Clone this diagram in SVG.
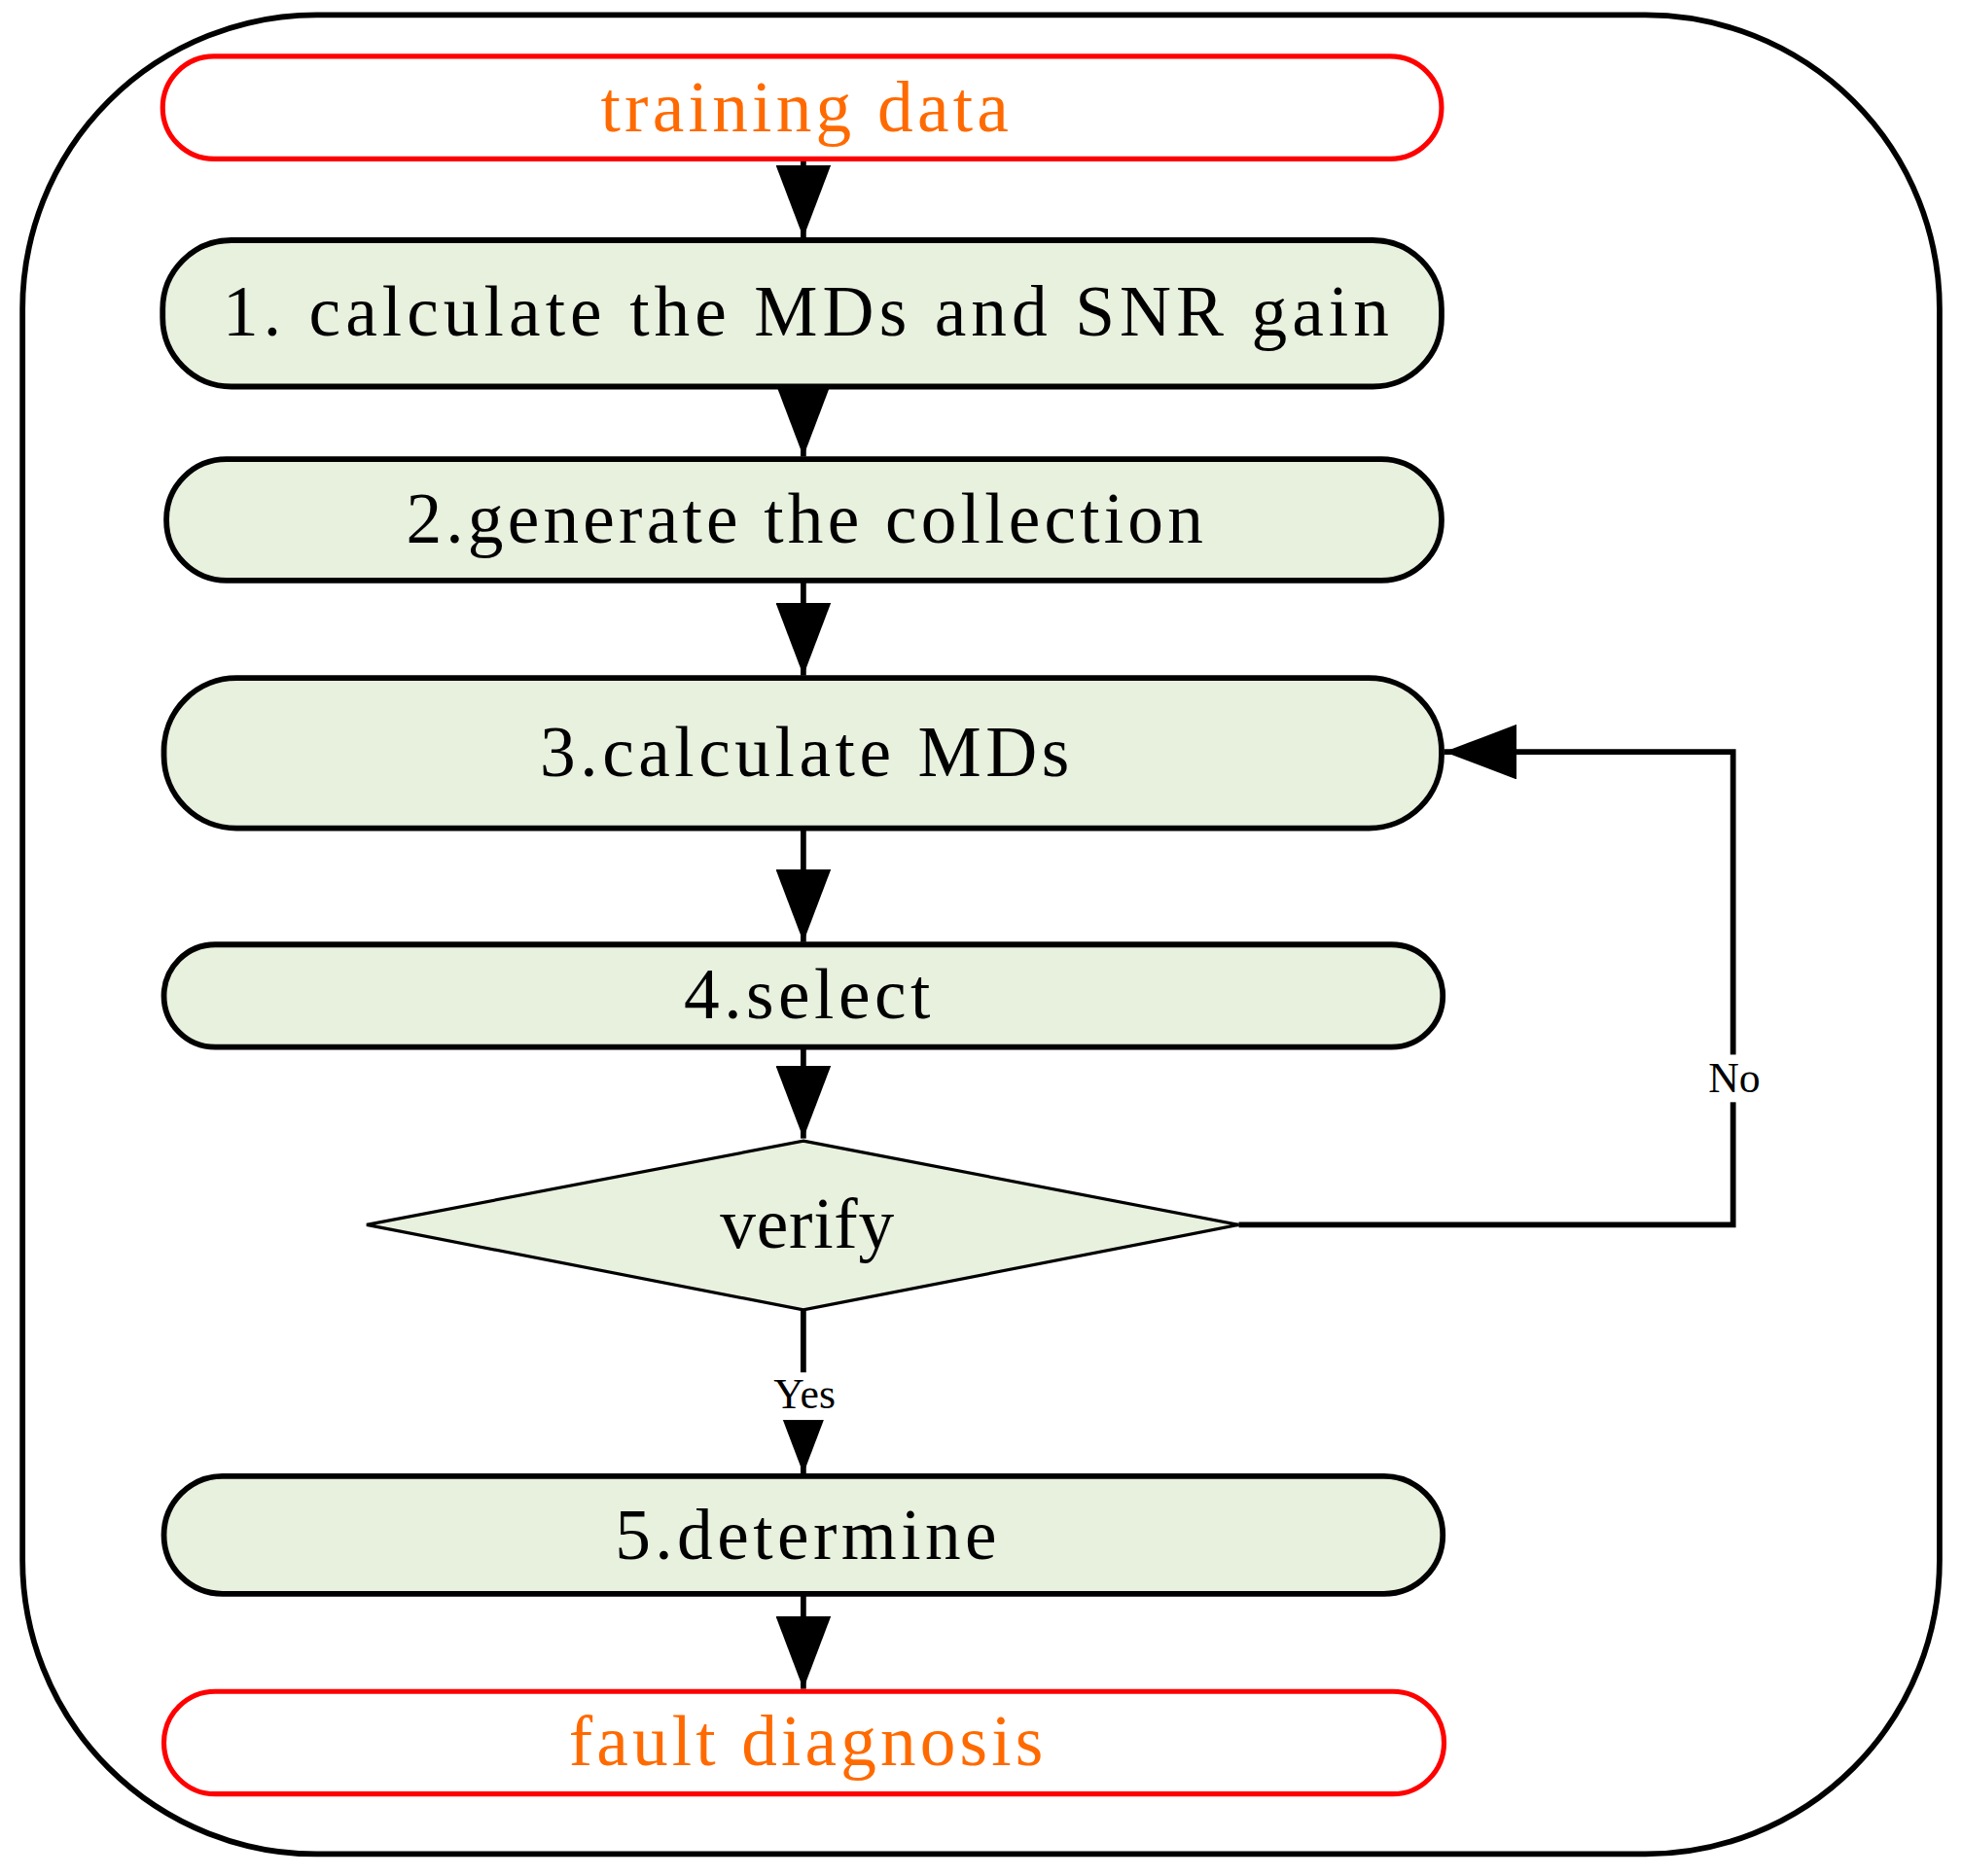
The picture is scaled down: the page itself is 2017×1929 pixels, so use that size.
<svg xmlns="http://www.w3.org/2000/svg" width="2017" height="1929" viewBox="0 0 2017 1929">
<style>
.box{fill:#e8f0de;stroke:#000;stroke-width:4.5}
.term{fill:#fff;stroke:#ff0000;stroke-width:4}
.t{font-family:"Liberation Serif",serif;font-size:57px;text-anchor:middle;fill:#000}
.o{fill:#ff6a00}
.s{font-family:"Liberation Serif",serif;font-size:34px;text-anchor:middle;fill:#000}
.c{stroke:#000;stroke-width:4.5;fill:none}
</style>
<defs>
<marker id="a" markerUnits="userSpaceOnUse" markerWidth="58" markerHeight="44" refX="58" refY="22" orient="auto" viewBox="0 0 58 44">
<path d="M0,0 L58,22 L0,44 Z" fill="#000"/>
</marker>
</defs>
<rect width="2017" height="1929" fill="#fff"/>
<g transform="scale(1.2864)">
<rect x="18" y="12" width="1532" height="1470" rx="235" fill="none" stroke="#000" stroke-width="4.5"/>
<g id="connectors">
<line class="c" x1="642" y1="127" x2="642" y2="190" marker-end="url(#a)"/>
<line class="c" x1="642" y1="309" x2="642" y2="365" marker-end="url(#a)"/>
<line class="c" x1="642" y1="464" x2="642" y2="540" marker-end="url(#a)"/>
<line class="c" x1="642" y1="662" x2="642" y2="753" marker-end="url(#a)"/>
<line class="c" x1="642" y1="837" x2="642" y2="910" marker-end="url(#a)"/>
<line class="c" x1="642" y1="1047" x2="642" y2="1178" marker-end="url(#a)"/>
<line class="c" x1="642" y1="1274" x2="642" y2="1350" marker-end="url(#a)"/>
<polyline class="c" points="990,979 1385,979 1385,601 1154,601" marker-end="url(#a)"/>
<rect x="1358" y="843" width="56" height="38" fill="#fff"/>
<text class="s" x="1386" y="873">No</text>
<rect x="610" y="1097" width="64" height="38" fill="#fff"/>
<text class="s" x="643" y="1126">Yes</text>
</g>
<g id="n0"><rect class="term" x="130" y="45" width="1022" height="82" rx="41"/><text class="t o" x="643" y="105" textLength="326" lengthAdjust="spacing">training data</text></g>
<g id="n1"><rect class="box" x="130" y="192" width="1022" height="117" rx="55"/><text class="t" x="644" y="268" textLength="932" lengthAdjust="spacing">1. calculate the MDs  and SNR gain</text></g>
<g id="n2"><rect class="box" x="133" y="367" width="1019" height="97" rx="48"/><text class="t" x="643" y="434" textLength="637" lengthAdjust="spacing">2.generate the collection</text></g>
<g id="n3"><rect class="box" x="131" y="542" width="1021" height="120" rx="58"/><text class="t" x="643" y="620" textLength="423" lengthAdjust="spacing">3.calculate MDs</text></g>
<g id="n4"><rect class="box" x="131" y="755" width="1022" height="82" rx="41"/><text class="t" x="645" y="814" textLength="197" lengthAdjust="spacing">4.select</text></g>
<g id="n5"><polygon points="642,912 990,979 642,1047 293,979" fill="#e8f0de" stroke="#000" stroke-width="2.5"/><text class="t" x="645" y="997" textLength="139" lengthAdjust="spacing">verify</text></g>
<g id="n6"><rect class="box" x="131" y="1180" width="1022" height="94" rx="47"/><text class="t" x="644" y="1246" textLength="305" lengthAdjust="spacing">5.determine</text></g>
<g id="n7"><rect class="term" x="131" y="1352" width="1023" height="82" rx="41"/><text class="t o" x="644" y="1411" textLength="379" lengthAdjust="spacing">fault diagnosis</text></g>
</g>
</svg>
